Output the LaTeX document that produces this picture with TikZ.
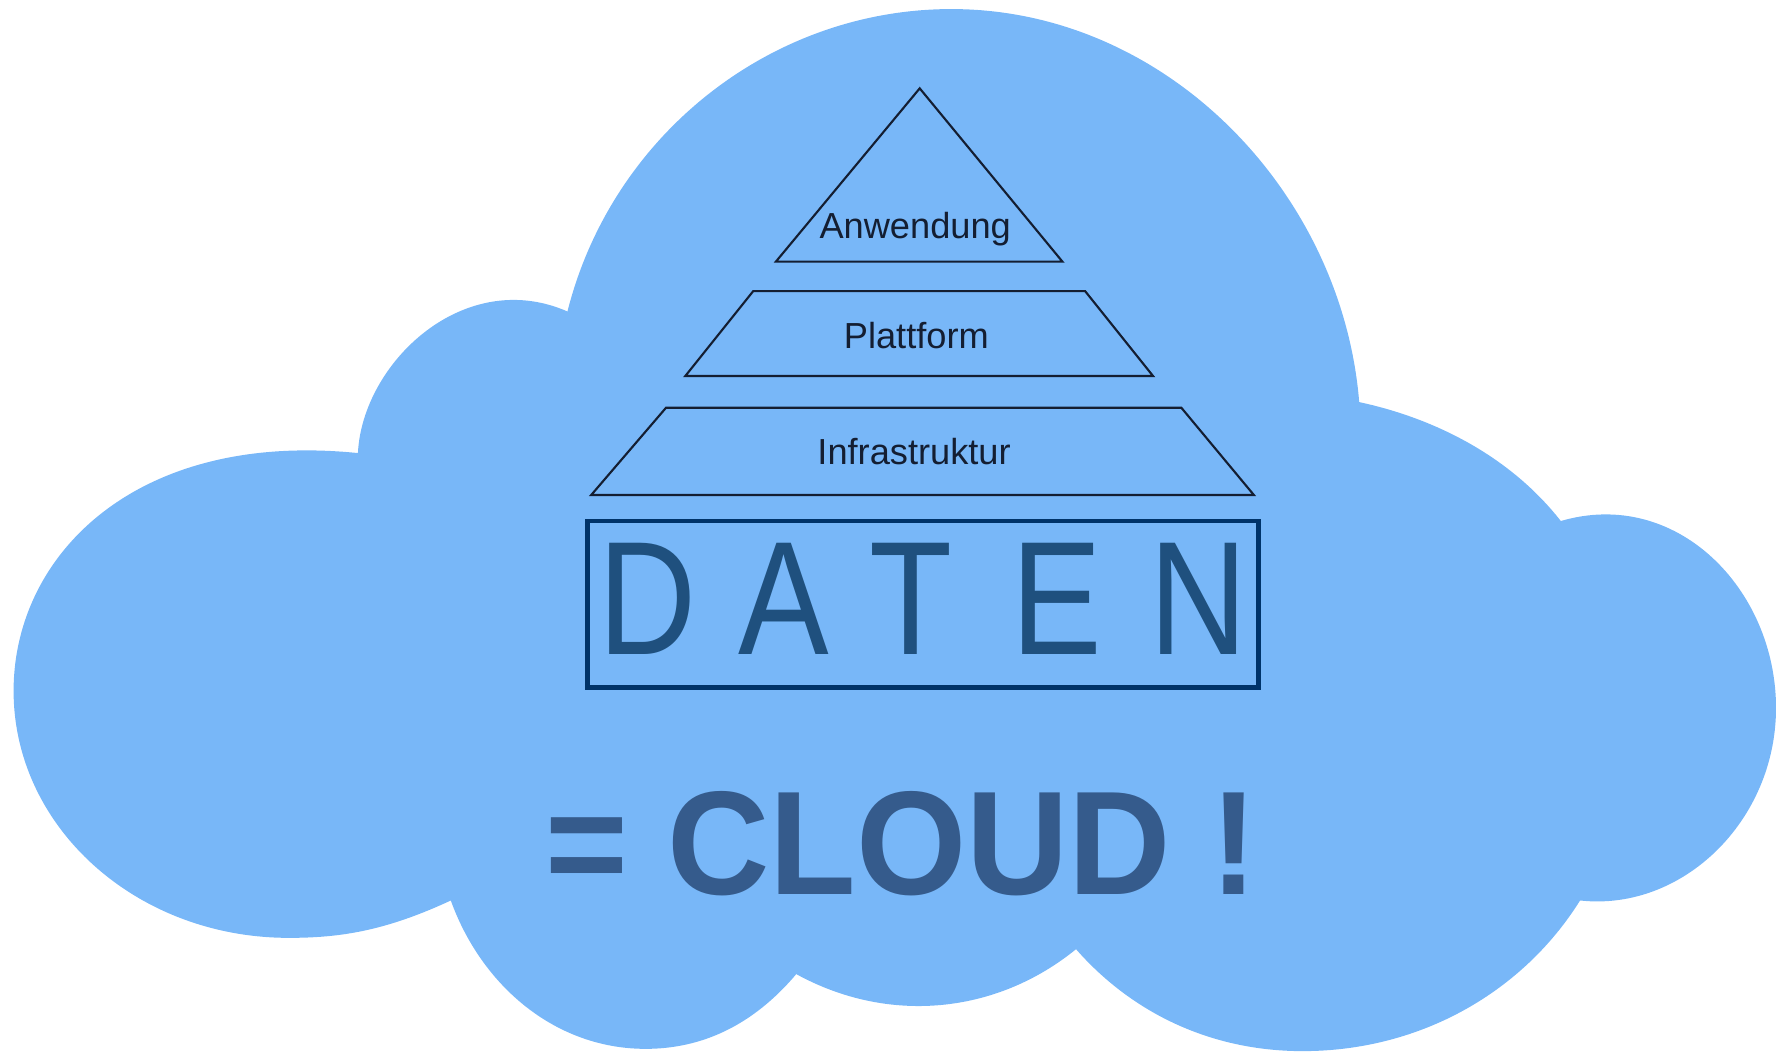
\documentclass[tikz,border=0pt]{standalone}
\usepackage{graphicx}
\usepackage{fontspec}
\setmainfont{Liberation Sans}
\definecolor{cloudblue}{RGB}{120,183,248}
\definecolor{framenavy}{RGB}{0,51,105}
\definecolor{datenblue}{RGB}{31,80,126}
\definecolor{cloudtext}{RGB}{53,91,140}
\definecolor{layerline}{RGB}{20,30,50}
\tikzset{
  layer/.style={draw=layerline,line width=0.6pt,line join=miter},
  layerlabel/.style={text=layerline,inner sep=0pt,font=\fontsize{10.3}{12}\selectfont},
}
\begin{document}
\begin{tikzpicture}[x=0.011327cm,y=-0.011327cm]
\useasboundingbox (0,0) rectangle (1568,928);
\fill[cloudblue] (501,275)
  .. controls (540,120) and (680,8) .. (840,8)
  .. controls (1030,8) and (1185,170) .. (1200,355)
  .. controls (1270,370) and (1335,405) .. (1378,460)
  .. controls (1480,430) and (1568,520) .. (1568,625)
  .. controls (1568,725) and (1485,805) .. (1395,795)
  .. controls (1345,875) and (1255,928) .. (1150,928)
  .. controls (1070,928) and (1000,895) .. (950,838)
  .. controls (880,895) and (785,905) .. (703,860)
  .. controls (665,905) and (620,926) .. (570,926)
  .. controls (490,926) and (425,870) .. (398,795)
  .. controls (340,822) and (300,828) .. (255,828)
  .. controls (120,828) and (12,730) .. (12,610)
  .. controls (12,490) and (120,380) .. (316,400)
  .. controls (320,320) and (410,235) .. (501,275) -- cycle;
\draw[layer] (812,78) -- (938,231) -- (685,231) -- cycle;
\draw[layer] (665,257) -- (958,257) -- (1018,332) -- (605,332) -- cycle;
\draw[layer] (588,360) -- (1043,360) -- (1107,437) -- (522,437) -- cycle;
\node[layerlabel] (anwendung) at (808,202) {Anwendung};
\node[layerlabel] (plattform) at (809,296) {Plattform};
\node[layerlabel] (infrastruktur) at (807,399) {Infrastruktur};
\draw[framenavy,line width=1.4pt] (519,460) rectangle (1111,607);
\node[text=datenblue,inner sep=0pt] (daten) at (815,529) {\scalebox{0.84}[1]{\fontsize{46}{52}\selectfont D\hspace{14.2pt}A\hspace{13.8pt}T\hspace{20pt}E\hspace{16pt}N}};
\node[text=cloudtext,inner sep=0pt] (cloud) at (796,745) {\scalebox{0.96}[1]{\fontsize{42}{48}\selectfont\bfseries = CLOUD !}};
\end{tikzpicture}
\end{document}
